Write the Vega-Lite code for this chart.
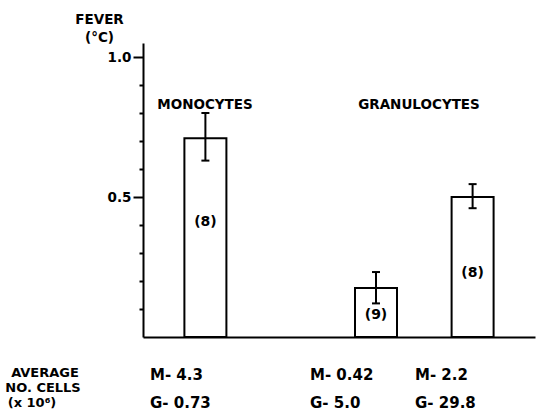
{
  "$schema": "https://vega.github.io/schema/vega-lite/v6.json",
  "autosize": "none",
  "width": 392,
  "height": 294,
  "padding": {"left": 143, "top": 43, "right": 9, "bottom": 77},
  "background": "white",
  "config": {
    "view": {"stroke": null},
    "font": "DejaVu Sans",
    "text": {"font": "DejaVu Sans", "fontWeight": "bold", "color": "black", "baseline": "middle"}
  },
  "datasets": {
    "bars": [
      {"cells": "Monocytes", "pos": 15.6, "fever": 0.71, "lo": 0.63, "hi": 0.80, "n": "(8)", "nlab": 0.41},
      {"cells": "Granulocytes (low dose)", "pos": 58.25, "fever": 0.175, "lo": 0.12, "hi": 0.232, "n": "(9)", "nlab": 0.079},
      {"cells": "Granulocytes (high dose)", "pos": 82.4, "fever": 0.50, "lo": 0.46, "hi": 0.546, "n": "(8)", "nlab": 0.229}
    ],
    "groups": [
      {"label": "MONOCYTES", "x": 15.5, "y": 0.83},
      {"label": "GRANULOCYTES", "x": 69, "y": 0.83}
    ],
    "cellhead": [
      {"line": "AVERAGE", "x": -24.5, "y": -0.129},
      {"line": "NO. CELLS", "x": -25, "y": -0.182},
      {"line": "(x 10⁶)", "x": -27.75, "y": -0.236}
    ],
    "counts": [
      {"txt": "M- 4.3", "x": 1.75, "y": -0.136},
      {"txt": "G- 0.73", "x": 1.75, "y": -0.236},
      {"txt": "M- 0.42", "x": 41.75, "y": -0.136},
      {"txt": "G- 5.0", "x": 41.75, "y": -0.236},
      {"txt": "M- 2.2", "x": 68, "y": -0.136},
      {"txt": "G- 29.8", "x": 68, "y": -0.236}
    ]
  },
  "layer": [
    {
      "data": {"name": "bars"},
      "mark": {"type": "bar", "orient": "vertical", "width": 42, "fill": "white", "stroke": "black", "strokeWidth": 2},
      "encoding": {
        "x": {"field": "pos", "type": "quantitative", "scale": {"domain": [0, 98], "nice": false, "zero": false, "padding": 0},
              "axis": {"title": null, "labels": false, "ticks": false, "grid": false, "domainColor": "black", "domainWidth": 2}},
        "y": {"field": "fever", "type": "quantitative", "scale": {"domain": [0, 1.05], "nice": false, "padding": 0},
              "axis": {
                "title": ["FEVER", "(°C)"],
                "titleAngle": 0, "titleAlign": "center", "titleBaseline": "top",
                "titleX": -44, "titleY": -31, "titleLineHeight": 18,
                "titleFont": "DejaVu Sans", "titleFontWeight": "bold", "titleFontSize": 13.5, "titleColor": "black",
                "values": [0.1, 0.2, 0.3, 0.4, 0.5, 0.6, 0.7, 0.8, 0.9, 1.0],
                "tickCount": 30,
                "labelExpr": "datum.value == 0.5 ? '0.5' : (datum.value == 1 ? '1.0' : '')",
                "labelOverlap": false,
                "labelFont": "DejaVu Sans", "labelFontWeight": "bold", "labelFontSize": 13.5, "labelColor": "black",
                "labelPadding": 2,
                "tickSize": {"condition": {"test": "datum.value == 0.5 || datum.value == 1", "value": 10}, "value": 4},
                "tickWidth": 2, "tickColor": "black",
                "domainColor": "black", "domainWidth": 2, "grid": false
              }}
      }
    },
    {
      "data": {"name": "bars"},
      "mark": {"type": "rule", "color": "black", "strokeWidth": 2},
      "encoding": {
        "x": {"field": "pos", "type": "quantitative"},
        "y": {"field": "lo", "type": "quantitative"},
        "y2": {"field": "hi"}
      }
    },
    {
      "data": {"name": "bars"},
      "mark": {"type": "tick", "orient": "horizontal", "size": 8, "thickness": 2, "color": "black", "opacity": 1},
      "encoding": {
        "x": {"field": "pos", "type": "quantitative"},
        "y": {"field": "lo", "type": "quantitative"}
      }
    },
    {
      "data": {"name": "bars"},
      "mark": {"type": "tick", "orient": "horizontal", "size": 8, "thickness": 2, "color": "black", "opacity": 1},
      "encoding": {
        "x": {"field": "pos", "type": "quantitative"},
        "y": {"field": "hi", "type": "quantitative"}
      }
    },
    {
      "data": {"name": "bars"},
      "mark": {"type": "text", "fontSize": 14, "align": "center"},
      "encoding": {
        "x": {"field": "pos", "type": "quantitative"},
        "y": {"field": "nlab", "type": "quantitative"},
        "text": {"field": "n"}
      }
    },
    {
      "data": {"name": "groups"},
      "mark": {"type": "text", "fontSize": 13.5, "align": "center"},
      "encoding": {
        "x": {"field": "x", "type": "quantitative"},
        "y": {"field": "y", "type": "quantitative"},
        "text": {"field": "label"}
      }
    },
    {
      "data": {"name": "cellhead"},
      "mark": {"type": "text", "fontSize": 13, "align": "center"},
      "encoding": {
        "x": {"field": "x", "type": "quantitative"},
        "y": {"field": "y", "type": "quantitative"},
        "text": {"field": "line"}
      }
    },
    {
      "data": {"name": "counts"},
      "mark": {"type": "text", "fontSize": 15, "align": "left"},
      "encoding": {
        "x": {"field": "x", "type": "quantitative"},
        "y": {"field": "y", "type": "quantitative"},
        "text": {"field": "txt"}
      }
    }
  ]
}
